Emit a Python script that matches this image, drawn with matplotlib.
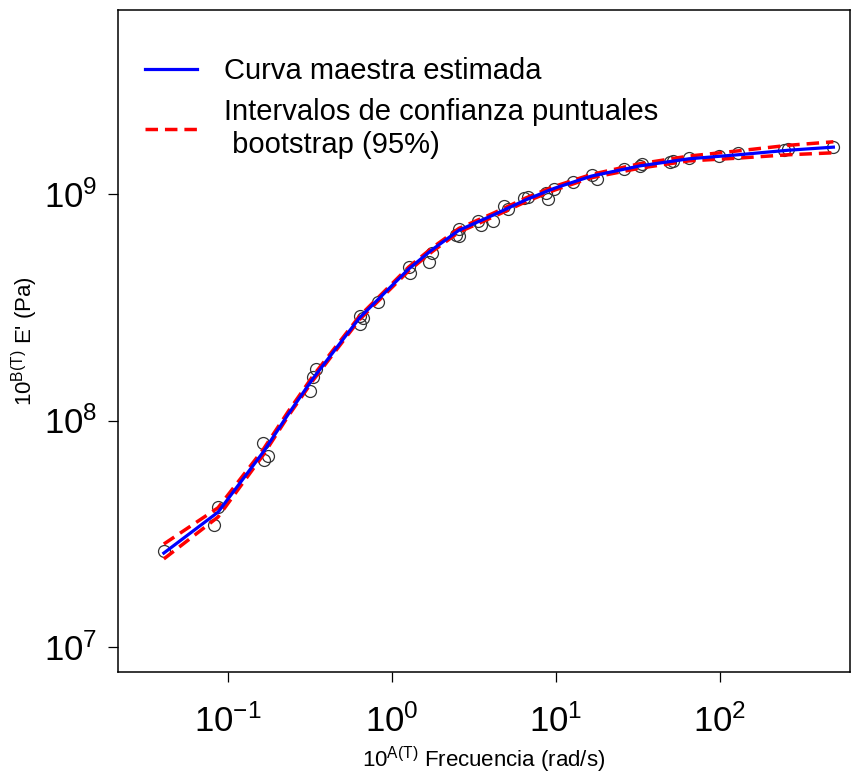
import matplotlib
matplotlib.use("Agg")
import matplotlib.pyplot as plt
from matplotlib.ticker import LogFormatterSciNotation, NullLocator

plt.rcParams["font.family"] = ["Liberation Sans", "DejaVu Sans"]
plt.rcParams["mathtext.fontset"] = "custom"
plt.rcParams["mathtext.rm"] = "Liberation Sans"
plt.rcParams["mathtext.it"] = "Liberation Sans:italic"
plt.rcParams["mathtext.bf"] = "Liberation Sans:bold"

# Observed (shifted) storage modulus data
freq_obs = [0.0409, 0.0827, 0.0875, 0.165, 0.167, 0.177, 0.320, 0.333, 0.348,
            0.637, 0.637, 0.665, 0.821, 1.27, 1.29, 1.68, 1.76, 2.46, 2.57, 2.57,
            3.36, 3.50, 4.15, 4.84, 5.12, 6.42, 6.79, 8.75, 9.0, 9.79, 12.8,
            16.5, 17.7, 25.9, 32.4, 33.3, 49.5, 51.6, 64.6, 98.6, 129, 246, 260, 491]
modulus_obs = [2.65e7, 3.46e7, 4.15e7, 7.96e7, 6.7e7, 6.97e7, 1.35e8, 1.56e8, 1.69e8,
               2.89e8, 2.67e8, 2.84e8, 3.34e8, 4.76e8, 4.48e8, 5.01e8, 5.49e8, 6.59e8, 7.0e8, 6.53e8,
               7.6e8, 7.3e8, 7.6e8, 8.85e8, 8.59e8, 9.6e8, 9.7e8, 1.01e9, 9.5e8, 1.05e9, 1.13e9,
               1.21e9, 1.16e9, 1.29e9, 1.33e9, 1.36e9, 1.38e9, 1.40e9, 1.44e9, 1.47e9, 1.52e9,
               1.56e9, 1.58e9, 1.61e9]

# Estimated master curve and pointwise bootstrap bands
freq_curve = [0.0409, 0.0875, 0.165, 0.235, 0.333, 0.637, 1.27, 1.76, 2.57, 4.15,
              6.6, 9.8, 16.5, 32.4, 64.6, 129, 260, 491]
master = [2.6e7, 3.94e7, 7.26e7, 1.07e8, 1.54e8, 2.84e8, 4.67e8, 5.67e8, 6.92e8, 8.07e8,
          9.44e8, 1.06e9, 1.20e9, 1.33e9, 1.43e9, 1.49e9, 1.56e9, 1.61e9]
band_upper = [2.85e7, 4.12e7, 7.46e7, 1.10e8, 1.58e8, 2.89e8, 4.76e8, 5.78e8, 7.05e8, 8.22e8,
              9.62e8, 1.08e9, 1.22e9, 1.36e9, 1.47e9, 1.55e9, 1.64e9, 1.70e9]
band_lower = [2.45e7, 3.75e7, 7.05e7, 1.05e8, 1.51e8, 2.79e8, 4.58e8, 5.56e8, 6.79e8, 7.92e8,
              9.26e8, 1.04e9, 1.18e9, 1.30e9, 1.40e9, 1.44e9, 1.49e9, 1.52e9]

fig = plt.figure(figsize=(8.52, 7.77), dpi=100)
ax = fig.add_axes([118 / 852, 105 / 777, 732 / 852, 662 / 777])

ax.plot(freq_obs, modulus_obs, linestyle="none", marker="o", markersize=8.6,
        markerfacecolor="none", markeredgecolor="#333333", markeredgewidth=0.9)
ax.plot(freq_curve, band_upper, color="red", lw=2.5, dashes=(3.6, 2.0),
        label="Intervalos de confianza puntuales\n bootstrap (95%)")
ax.plot(freq_curve, band_lower, color="red", lw=2.5, dashes=(3.6, 2.0))
ax.plot(freq_curve, master, color="blue", lw=2.3, label="Curva maestra estimada")

ax.set_xscale("log")
ax.set_yscale("log")
ax.set_xlim(0.0215, 620)
ax.set_ylim(7.76e6, 6.49e9)

ax.set_xticks([0.1, 1, 10, 100])
ax.set_yticks([1e7, 1e8, 1e9])
for axis in (ax.xaxis, ax.yaxis):
    axis.set_major_formatter(LogFormatterSciNotation())
    axis.set_minor_locator(NullLocator())

for s in ax.spines.values():
    s.set_linewidth(1.1)
ax.tick_params(axis="both", length=7, width=0.9, labelsize=25)
ax.tick_params(axis="x", pad=16)
ax.tick_params(axis="y", pad=8)

ax.set_xlabel(r"$\mathdefault{10^{A(T)}}$ Frecuencia (rad/s)", fontsize=16)
ax.set_ylabel(r"$\mathdefault{10^{B(T)}}$ E' (Pa)", fontsize=16)
ax.xaxis.set_label_coords(0.5, -0.110)
ax.yaxis.set_label_coords(-0.106, 0.5)

handles, labels = ax.get_legend_handles_labels()
ax.legend(handles[::-1], labels[::-1], loc="upper left", bbox_to_anchor=(0.037, 0.929),
          frameon=False, fontsize=21, borderpad=0, borderaxespad=0,
          handlelength=1.78, handletextpad=0.92, labelspacing=0.45)

fig.savefig("out.png", dpi=100)
